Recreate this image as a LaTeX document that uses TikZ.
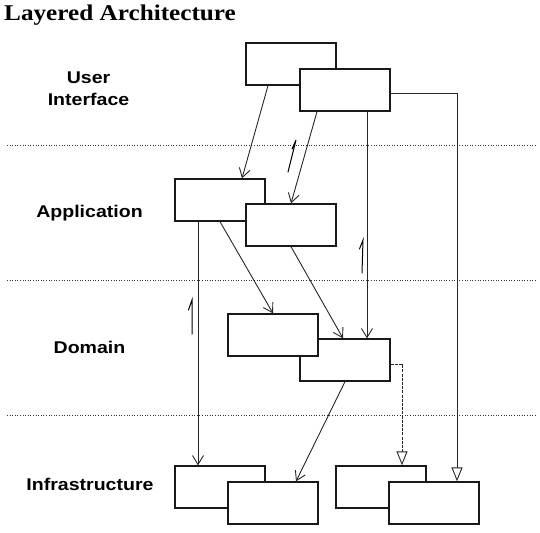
\documentclass[tikz,border=0pt]{standalone}
\usepackage{fontspec}
\usetikzlibrary{arrows.meta}
\newfontfamily\lblfont[FakeStretch=1.15]{Liberation Sans}
\newfontfamily\ttlfont[FakeStretch=1.12]{Liberation Serif}
\begin{document}
\begin{tikzpicture}[x=1pt,y=-1pt,
  box/.style={draw=black!90,line width=1.3pt,fill=white,minimum width=90pt,minimum height=42pt,inner sep=0pt},
  layer/.style={font=\lblfont\fontsize{17}{22}\selectfont\bfseries,inner sep=0pt,anchor=base,align=center},
  dep/.style={draw=black!85,line width=0.9pt,-{Straight Barb[length=9pt,width=11pt,line width=0.9pt]}},
  gen/.style={draw=black!85,line width=0.9pt,-{Triangle[length=14pt,width=11pt,fill=white,line width=0.9pt]}},
  sep/.style={draw=black!80,line width=1pt,dash pattern=on 1pt off 1.6pt},
  navmark/.style={draw=black,line width=1pt,line cap=round}]
\useasboundingbox (0,0) rectangle (540,532);
\node[font=\ttlfont\fontsize{22.5}{26}\selectfont\bfseries,anchor=base west,inner sep=0pt] (title) at (4,21) {Layered Architecture};
% separators
\draw[sep] (7,145) -- (535,145);
\draw[sep] (7,280) -- (535,280);
\draw[sep] (7,415) -- (535,415);
% layer labels
\node[layer] (lui) at (88.5,106) {User\\Interface};
\node[layer] (lapp) at (89.5,217) {Application};
\node[layer] (ldom) at (89.5,353) {Domain};
\node[layer] (linf) at (90,490) {Infrastructure};
% boxes
\node[box] (ui1) at (291,64) {};
\node[box] (ui2) at (345,90) {};
\node[box] (a1) at (220,200) {};
\node[box] (a2) at (291,225) {};
\node[box] (d2) at (345,360) {};
\node[box] (d1) at (273,335) {};
\node[box] (i1) at (220,487) {};
\node[box] (i2) at (273,503) {};
\node[box] (i3) at (381,487) {};
\node[box] (i4) at (434,503) {};
% connectors
\draw[dep] ([xshift=-23pt]ui1.south) -- ([xshift=22pt]a1.north);
\draw[dep] ([xshift=-28pt]ui2.south) -- (a2.north);
\draw[dep] ([xshift=22pt]ui2.south) -- ([xshift=22pt]d2.north);
\draw[gen] ([yshift=-3pt]ui2.east) -| ([xshift=23pt]i4.north);
\draw[dep] ([xshift=-22pt]a1.south) -- ([xshift=-22pt]i1.north);
\draw[dep] (a1.south) -- (d1.north);
\draw[dep] (a2.south) -- ([xshift=-2pt]d2.north);
\draw[dep] (d2.south) -- ([xshift=23pt]i2.north);
\draw[gen,dash pattern=on 3pt off 1.2pt] ([yshift=-4pt]d2.east) -| ([xshift=21pt]i3.north);
% direction marks
\draw[navmark] (288,172) -- (296,140) -- (292,149);
\draw[navmark] (362,273) -- (363,240) -- (359.5,249);
\draw[navmark] (192,334) -- (192,300) -- (188.5,310);
\end{tikzpicture}
\end{document}
